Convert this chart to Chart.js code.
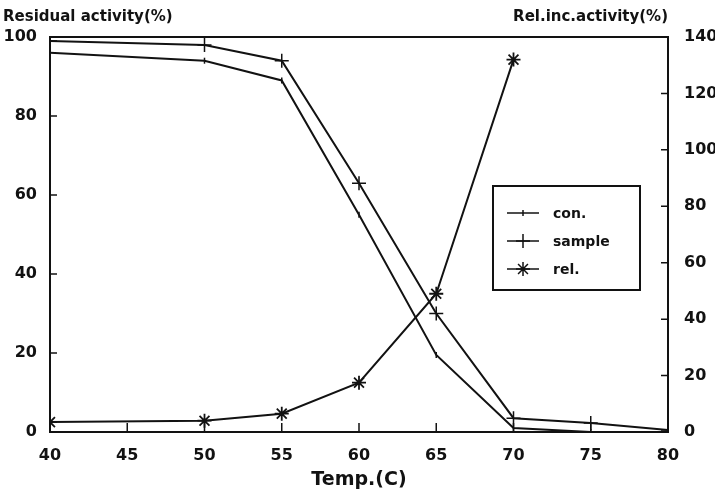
<!DOCTYPE html>
<html lang="en">
<head>
    <meta charset="UTF-8">
    <title>Residual activity vs Temp</title>
    <script src="https://cdn.jsdelivr.net/npm/chart.js"></script>
    <style>
        html, body { margin: 0; padding: 0; background: #fff; }
    </style>
</head>
<body>
    <canvas id="chart" width="715" height="495"></canvas>

    <script>
        // Temperatura (asse x)
        const temps = [40, 50, 55, 60, 65, 70, 75, 80];
        const relTemps = [40, 50, 55, 60, 65, 70];

        // Serie
        const conValues = [96, 94, 89, 55, 19.5, 1, 0, 0];
        const sampleValues = [99, 98, 94, 63, 30, 3.5, 2.3, 0.5];
        const relValues = [3.5, 4, 6.5, 17.5, 49, 132];

        const leftTicks = [0, 20, 40, 60, 80, 100];
        const rightTicks = [0, 20, 40, 60, 80, 100, 120, 140];
        const xTicks = [40, 45, 50, 55, 60, 65, 70, 75, 80];

        const ink = '#121212';
        const fontName = '"DejaVu Sans", "Liberation Sans", sans-serif';

        function toPoints(xs, ys) {
            return xs.map((x, i) => ({ x: x, y: ys[i] }));
        }

        // Tacche interne, bordo e testi sopra gli assi
        const framePlugin = {
            id: 'frame',
            afterDraw(chart) {
                const ctx = chart.ctx;
                const a = chart.chartArea;
                const sx = chart.scales.x, sy = chart.scales.y, sy2 = chart.scales.y2;
                ctx.save();
                ctx.strokeStyle = ink;
                ctx.lineWidth = 2;
                ctx.strokeRect(a.left, a.top, a.right - a.left, a.bottom - a.top);
                ctx.lineWidth = 1.5;
                ctx.beginPath();
                xTicks.forEach(v => {
                    const px = sx.getPixelForValue(v);
                    ctx.moveTo(px, a.bottom);
                    ctx.lineTo(px, a.bottom - 9);
                });
                leftTicks.forEach(v => {
                    const py = sy.getPixelForValue(v);
                    ctx.moveTo(a.left, py);
                    ctx.lineTo(a.left + 7, py);
                });
                rightTicks.forEach(v => {
                    const py = sy2.getPixelForValue(v);
                    ctx.moveTo(a.right, py);
                    ctx.lineTo(a.right - 7, py);
                });
                ctx.stroke();

                ctx.fillStyle = ink;
                ctx.font = 'bold 15px ' + fontName;
                ctx.textBaseline = 'middle';
                ctx.textAlign = 'left';
                ctx.fillText('Residual activity(%)', 3, 17);
                ctx.textAlign = 'right';
                ctx.fillText('Rel.inc.activity(%)', 668, 17);

                // legenda dentro l'area del grafico
                const lx = 493, ly = 186, lw = 147, lh = 104;
                ctx.lineWidth = 2;
                ctx.strokeRect(lx, ly, lw, lh);
                ctx.font = 'bold 14px ' + fontName;
                ctx.textAlign = 'left';
                chart.data.datasets.forEach((ds, i) => {
                    const yy = ly + 27 + i * 28;
                    ctx.lineWidth = 1.5;
                    ctx.beginPath();
                    ctx.moveTo(lx + 14, yy);
                    ctx.lineTo(lx + 46, yy);
                    ctx.stroke();
                    Chart.helpers.drawPoint(ctx, {
                        pointStyle: ds.pointStyle,
                        radius: ds.pointRadius,
                        borderWidth: 1.5,
                        rotation: ds.pointRotation || 0
                    }, lx + 30, yy);
                    ctx.fillText(ds.label, lx + 60, yy + 1);
                });
                ctx.restore();
            }
        };

        const ctx = document.getElementById('chart').getContext('2d');
        const chart = new Chart(ctx, {
            type: 'line',
            data: {
                datasets: [
                    {
                        label: 'con.',
                        data: toPoints(temps, conValues),
                        yAxisID: 'y',
                        borderColor: ink,
                        backgroundColor: ink,
                        borderWidth: 2,
                        pointStyle: 'line',
                        pointRotation: 90,
                        pointRadius: 3,
                        pointBorderWidth: 1.5,
                        tension: 0
                    },
                    {
                        label: 'sample',
                        data: toPoints(temps, sampleValues),
                        yAxisID: 'y',
                        borderColor: ink,
                        backgroundColor: ink,
                        borderWidth: 2,
                        pointStyle: 'cross',
                        pointRadius: 7,
                        pointBorderWidth: 1.5,
                        tension: 0
                    },
                    {
                        label: 'rel.',
                        data: toPoints(relTemps, relValues),
                        yAxisID: 'y2',
                        borderColor: ink,
                        backgroundColor: ink,
                        borderWidth: 2,
                        pointStyle: 'star',
                        pointRadius: 7,
                        pointBorderWidth: 1.8,
                        tension: 0
                    }
                ]
            },
            options: {
                responsive: false,
                animation: false,
                layout: { padding: { top: 37, left: 0, right: 0, bottom: 0 } },
                plugins: {
                    legend: { display: false },
                    tooltip: { enabled: false }
                },
                scales: {
                    x: {
                        type: 'linear',
                        min: 40,
                        max: 80,
                        grid: { display: false },
                        border: { display: false },
                        afterBuildTicks: s => { s.ticks = xTicks.map(v => ({ value: v })); },
                        afterFit: s => { s.height = 63; },
                        ticks: {
                            color: ink,
                            padding: 6,
                            maxRotation: 0,
                            font: { family: fontName, size: 16, weight: 'bold' }
                        },
                        title: {
                            display: true,
                            text: 'Temp.(C)',
                            color: ink,
                            padding: { top: 1 },
                            font: { family: fontName, size: 19, weight: 'bold' }
                        }
                    },
                    y: {
                        position: 'left',
                        min: 0,
                        max: 100,
                        grid: { display: false },
                        border: { display: false },
                        afterBuildTicks: s => { s.ticks = leftTicks.map(v => ({ value: v })); },
                        afterFit: s => { s.width = 50; },
                        ticks: {
                            color: ink,
                            padding: 5,
                            font: { family: fontName, size: 16, weight: 'bold' }
                        }
                    },
                    y2: {
                        position: 'right',
                        min: 0,
                        max: 140,
                        grid: { display: false },
                        border: { display: false },
                        afterBuildTicks: s => { s.ticks = rightTicks.map(v => ({ value: v })); },
                        afterFit: s => { s.width = 47; },
                        ticks: {
                            color: ink,
                            padding: 8,
                            font: { family: fontName, size: 16, weight: 'bold' }
                        }
                    }
                }
            },
            plugins: [framePlugin]
        });
    </script>
</body>
</html>
